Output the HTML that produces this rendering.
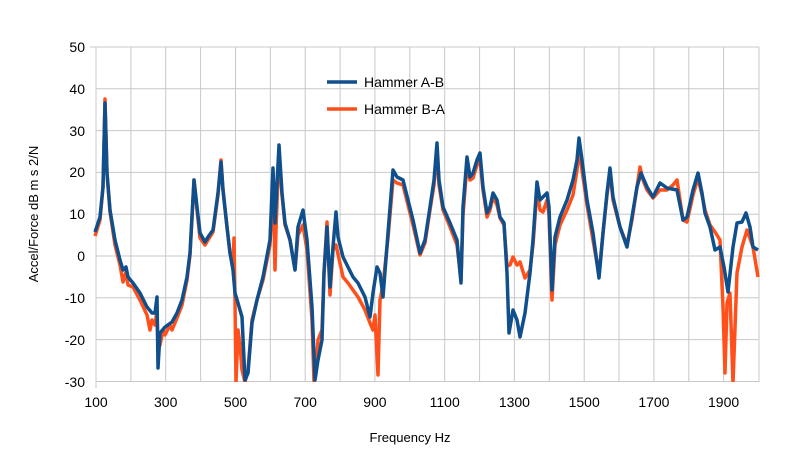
<!DOCTYPE html>
<html><head><meta charset="utf-8"><style>body{margin:0;background:#fff}svg{display:block;font-family:"Liberation Sans",sans-serif}</style></head><body>
<svg width="801" height="473" viewBox="0 0 801 473">
<g stroke="#c8c8c8" stroke-width="1">
<line x1="96" y1="47" x2="759" y2="47"/><line x1="96" y1="88.8" x2="759" y2="88.8"/><line x1="96" y1="130.6" x2="759" y2="130.6"/><line x1="96" y1="172.4" x2="759" y2="172.4"/><line x1="96" y1="214.2" x2="759" y2="214.2"/><line x1="96" y1="256" x2="759" y2="256"/><line x1="96" y1="297.8" x2="759" y2="297.8"/><line x1="96" y1="339.6" x2="759" y2="339.6"/><line x1="96" y1="381.5" x2="759" y2="381.5"/>
<line x1="96" y1="47" x2="96" y2="388"/><line x1="130.9" y1="47" x2="130.9" y2="382"/><line x1="165.7" y1="47" x2="165.7" y2="382"/><line x1="200.6" y1="47" x2="200.6" y2="382"/><line x1="235.5" y1="47" x2="235.5" y2="382"/><line x1="270.3" y1="47" x2="270.3" y2="382"/><line x1="305.2" y1="47" x2="305.2" y2="382"/><line x1="340.1" y1="47" x2="340.1" y2="382"/><line x1="374.9" y1="47" x2="374.9" y2="382"/><line x1="409.8" y1="47" x2="409.8" y2="382"/><line x1="444.7" y1="47" x2="444.7" y2="382"/><line x1="479.6" y1="47" x2="479.6" y2="382"/><line x1="514.4" y1="47" x2="514.4" y2="382"/><line x1="549.3" y1="47" x2="549.3" y2="382"/><line x1="584.2" y1="47" x2="584.2" y2="382"/><line x1="619" y1="47" x2="619" y2="382"/><line x1="653.9" y1="47" x2="653.9" y2="382"/><line x1="688.8" y1="47" x2="688.8" y2="382"/><line x1="723.6" y1="47" x2="723.6" y2="382"/><line x1="759" y1="47" x2="759" y2="382"/>
<line x1="90" y1="47" x2="96" y2="47"/>
</g>
<g font-size="14" fill="#000" text-anchor="end">
<text x="85" y="52">50</text><text x="85" y="94">40</text><text x="85" y="136">30</text><text x="85" y="177">20</text><text x="85" y="219">10</text><text x="85" y="261">0</text><text x="85" y="303">-10</text><text x="85" y="345">-20</text><text x="85" y="387">-30</text>
</g>
<g font-size="14" fill="#000" text-anchor="middle">
<text x="96" y="407">100</text><text x="165.7" y="407">300</text><text x="235.5" y="407">500</text><text x="305.2" y="407">700</text><text x="374.9" y="407">900</text><text x="444.7" y="407">1100</text><text x="514.4" y="407">1300</text><text x="584.2" y="407">1500</text><text x="653.9" y="407">1700</text><text x="723.6" y="407">1900</text>
</g>
<text x="410" y="442" font-size="13" text-anchor="middle">Frequency Hz</text>
<text transform="translate(38,214) rotate(-90)" font-size="13" text-anchor="middle">Accel/Force dB m s 2/N</text>
<defs><clipPath id="c"><rect x="90" y="40" width="675" height="342"/></clipPath></defs>
<g clip-path="url(#c)" fill="none" stroke-linejoin="round" stroke-width="3.5">
<polyline stroke="#ff4f1a" points="95,236 100,220 103,187 105,99 107,173 110,212 115,245 120,265 123,282 126,272 128,285 133,287 140,300 147,315 150,330 152,320 155,325 157,310 158,350 160,345 163,330 165,335 170,325 172,330 177,318 182,305 187,280 190,255 194,180 197,210 200,238 205,245 208,240 213,232 218,195 221,160 223,190 227,227 230,253 233,265 234,238 235,300 236,382 238,330 240,345 242,370 245,382 248,370 252,320 257,300 263,280 270,245 273,175 275,270 276,230 279,150 282,195 285,225 290,240 295,270 298,235 303,225 307,250 312,320 314,382 316,370 318,340 322,330 324,273 327,222 330,295 333,250 336,245 343,277 348,283 353,290 358,297 365,310 370,323 373,330 375,315 378,375 380,300 383,285 388,238 393,180 397,183 403,185 408,205 413,225 420,255 425,243 430,210 434,185 437,150 439,185 443,210 450,227 457,245 461,280 463,215 467,165 470,180 473,178 477,165 480,160 483,190 487,217 490,210 493,197 497,205 500,218 504,225 507,266 510,265 513,257 517,265 520,262 525,278 530,270 533,245 537,190 540,210 543,212 547,200 549,215 552,300 555,245 560,225 567,210 573,195 577,170 579,150 582,170 587,205 593,240 599,275 603,233 607,195 610,172 613,200 620,227 627,245 632,220 637,187 640,167 643,180 647,190 653,198 660,190 667,190 673,185 677,180 683,220 687,222 693,195 698,178 702,195 705,210 710,225 715,232 720,240 723,307 725,373 727,303 730,293 733,383 737,273 742,247 747,230 753,247 758,277"/>
<polyline stroke="#0f4f8c" points="95,232 100,217 103,187 105,103 107,173 110,210 115,240 120,260 123,270 126,267 128,277 133,283 140,293 147,307 152,313 155,313 157,297 158,368 160,333 165,327 172,322 177,313 182,300 187,277 190,253 194,180 197,207 200,233 205,242 208,237 213,230 218,193 221,162 223,190 227,227 230,253 233,270 235,293 238,303 242,317 245,380 248,373 252,323 257,300 263,277 270,240 273,168 275,223 279,145 282,193 285,223 290,240 295,270 298,227 303,210 307,240 312,307 315,380 318,360 322,340 324,273 327,227 330,287 333,247 336,212 338,237 343,257 348,267 353,277 358,283 365,297 370,317 373,293 377,267 380,273 383,297 388,233 393,170 397,177 403,180 408,200 413,220 420,253 425,240 430,207 434,180 437,143 439,180 443,207 450,223 457,240 461,283 463,207 467,157 470,177 473,173 477,160 480,153 483,187 487,213 490,207 493,193 497,200 500,217 504,223 507,273 509,333 513,310 517,320 520,337 525,313 530,273 533,240 537,182 540,200 543,197 547,193 549,207 552,290 555,237 560,217 567,200 573,180 577,160 579,138 582,160 587,200 593,233 599,278 603,233 607,193 610,168 613,197 620,227 627,247 632,217 637,187 641,173 647,187 653,197 660,183 667,188 677,190 683,220 687,217 693,190 698,173 702,193 705,213 710,227 715,250 720,247 724,267 728,292 733,247 737,223 742,222 746,213 750,227 753,247 758,250"/>
</g>
<line x1="327" y1="82" x2="357" y2="82" stroke="#0f4f8c" stroke-width="3.5"/>
<line x1="327" y1="109" x2="357" y2="109" stroke="#ff4f1a" stroke-width="3.5"/>
<text x="364" y="87" font-size="14">Hammer A-B</text>
<text x="364" y="114" font-size="14">Hammer B-A</text>
</svg>
</body></html>
